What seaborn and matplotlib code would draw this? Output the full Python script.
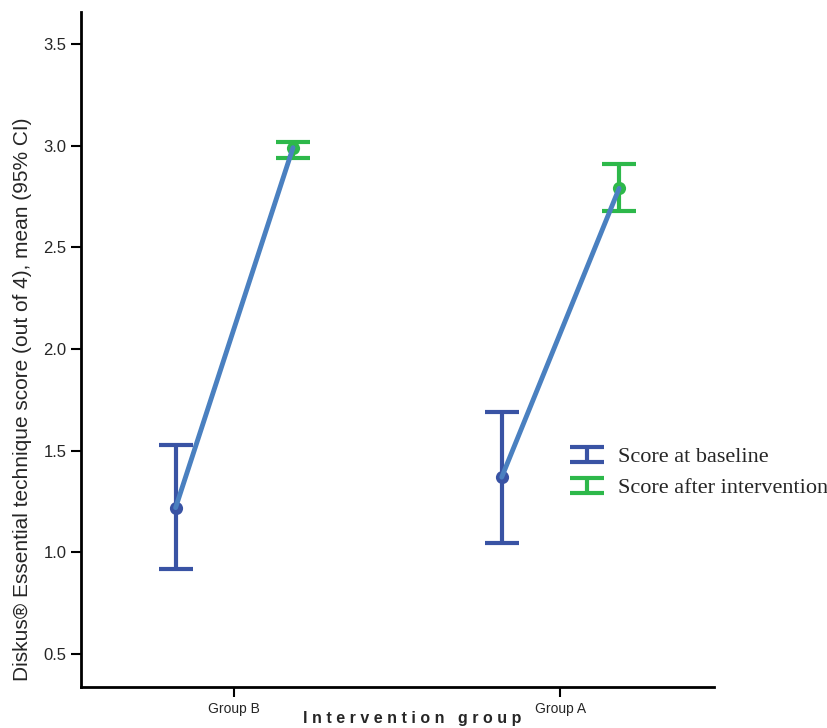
import matplotlib
matplotlib.use("Agg")
import matplotlib.pyplot as plt
from matplotlib.container import ErrorbarContainer
from matplotlib.legend_handler import HandlerErrorbar
import pandas as pd
import seaborn as sns
sns.set_theme(style="white")

groups = ["Group B", "Group A"]
phases = ["Score at baseline", "Score after intervention"]
means = {"Score at baseline": [1.22, 1.37], "Score after intervention": [2.99, 2.79]}
ci_low = {"Score at baseline": [0.92, 1.045], "Score after intervention": [2.94, 2.68]}
ci_high = {"Score at baseline": [1.53, 1.69], "Score after intervention": [3.02, 2.91]}
colors = {"Score at baseline": "#3953a4", "Score after intervention": "#2db84a"}
yticks = [0.5, 1.0, 1.5, 2.0, 2.5, 3.0, 3.5]

offsets = {"Score at baseline": -0.18, "Score after intervention": 0.18}
rows = []
for p in phases:
    for i, g in enumerate(groups):
        rows.append(dict(group=g, phase=p, x=i + offsets[p], mean=means[p][i],
                         lo=ci_low[p][i], hi=ci_high[p][i]))
data = pd.DataFrame(rows)

fig = plt.figure(figsize=(8.27, 7.28), dpi=100)
ax = fig.add_axes([0.098, 0.0563, 0.765, 0.9272])

# connecting line baseline -> after, per group
sns.lineplot(data=data, x="x", y="mean", units="group", estimator=None,
             color="#4a80c0", linewidth=3.5, ax=ax, zorder=3)

for p in phases:
    d = data[data.phase == p]
    ax.errorbar(d.x, d["mean"], yerr=[d["mean"] - d.lo, d.hi - d["mean"]],
                fmt="none", ecolor=colors[p], elinewidth=3, capsize=12,
                capthick=3, label=p, zorder=2)
    sns.scatterplot(x=d.x, y=d["mean"], color=colors[p], s=90, linewidth=0,
                    ax=ax, zorder=2, legend=False)

ax.set_xlim(-0.47, 1.47)
ax.set_ylim(0.338, 3.657)
ax.set_xticks([0, 1])
ax.set_xticklabels(groups, fontsize=10, family="Liberation Sans")
ax.set_yticks(yticks)
ax.set_yticklabels([f"{v:.1f}" for v in yticks], fontsize=12, family="Liberation Sans")
ax.tick_params(axis="both", direction="out", length=7, width=1.5, color="black",
               left=True, bottom=True)

sns.despine(ax=ax)
for s in ["left", "bottom"]:
    ax.spines[s].set_color("black")
    ax.spines[s].set_linewidth(2)

ax.set_xlabel("I n t e r v e n t i o n   g r o u p", fontsize=11.5, fontweight="bold",
              family="Liberation Sans")
ax.xaxis.set_label_coords(0.524, -0.035)
ax.set_ylabel("Diskus® Essential technique score (out of 4), mean (95% CI)",
              fontsize=15, family="Liberation Sans")
ax.yaxis.set_label_coords(-0.078, 0.427)

leg = ax.legend(loc="center left", bbox_to_anchor=(0.74, 0.318),
                frameon=False, prop={"family": "Liberation Serif", "size": 16},
                handlelength=1.6, handletextpad=0.6, labelspacing=0.45,
                handler_map={ErrorbarContainer: HandlerErrorbar(yerr_size=0.34)})

fig.savefig("out.png", dpi=100)
